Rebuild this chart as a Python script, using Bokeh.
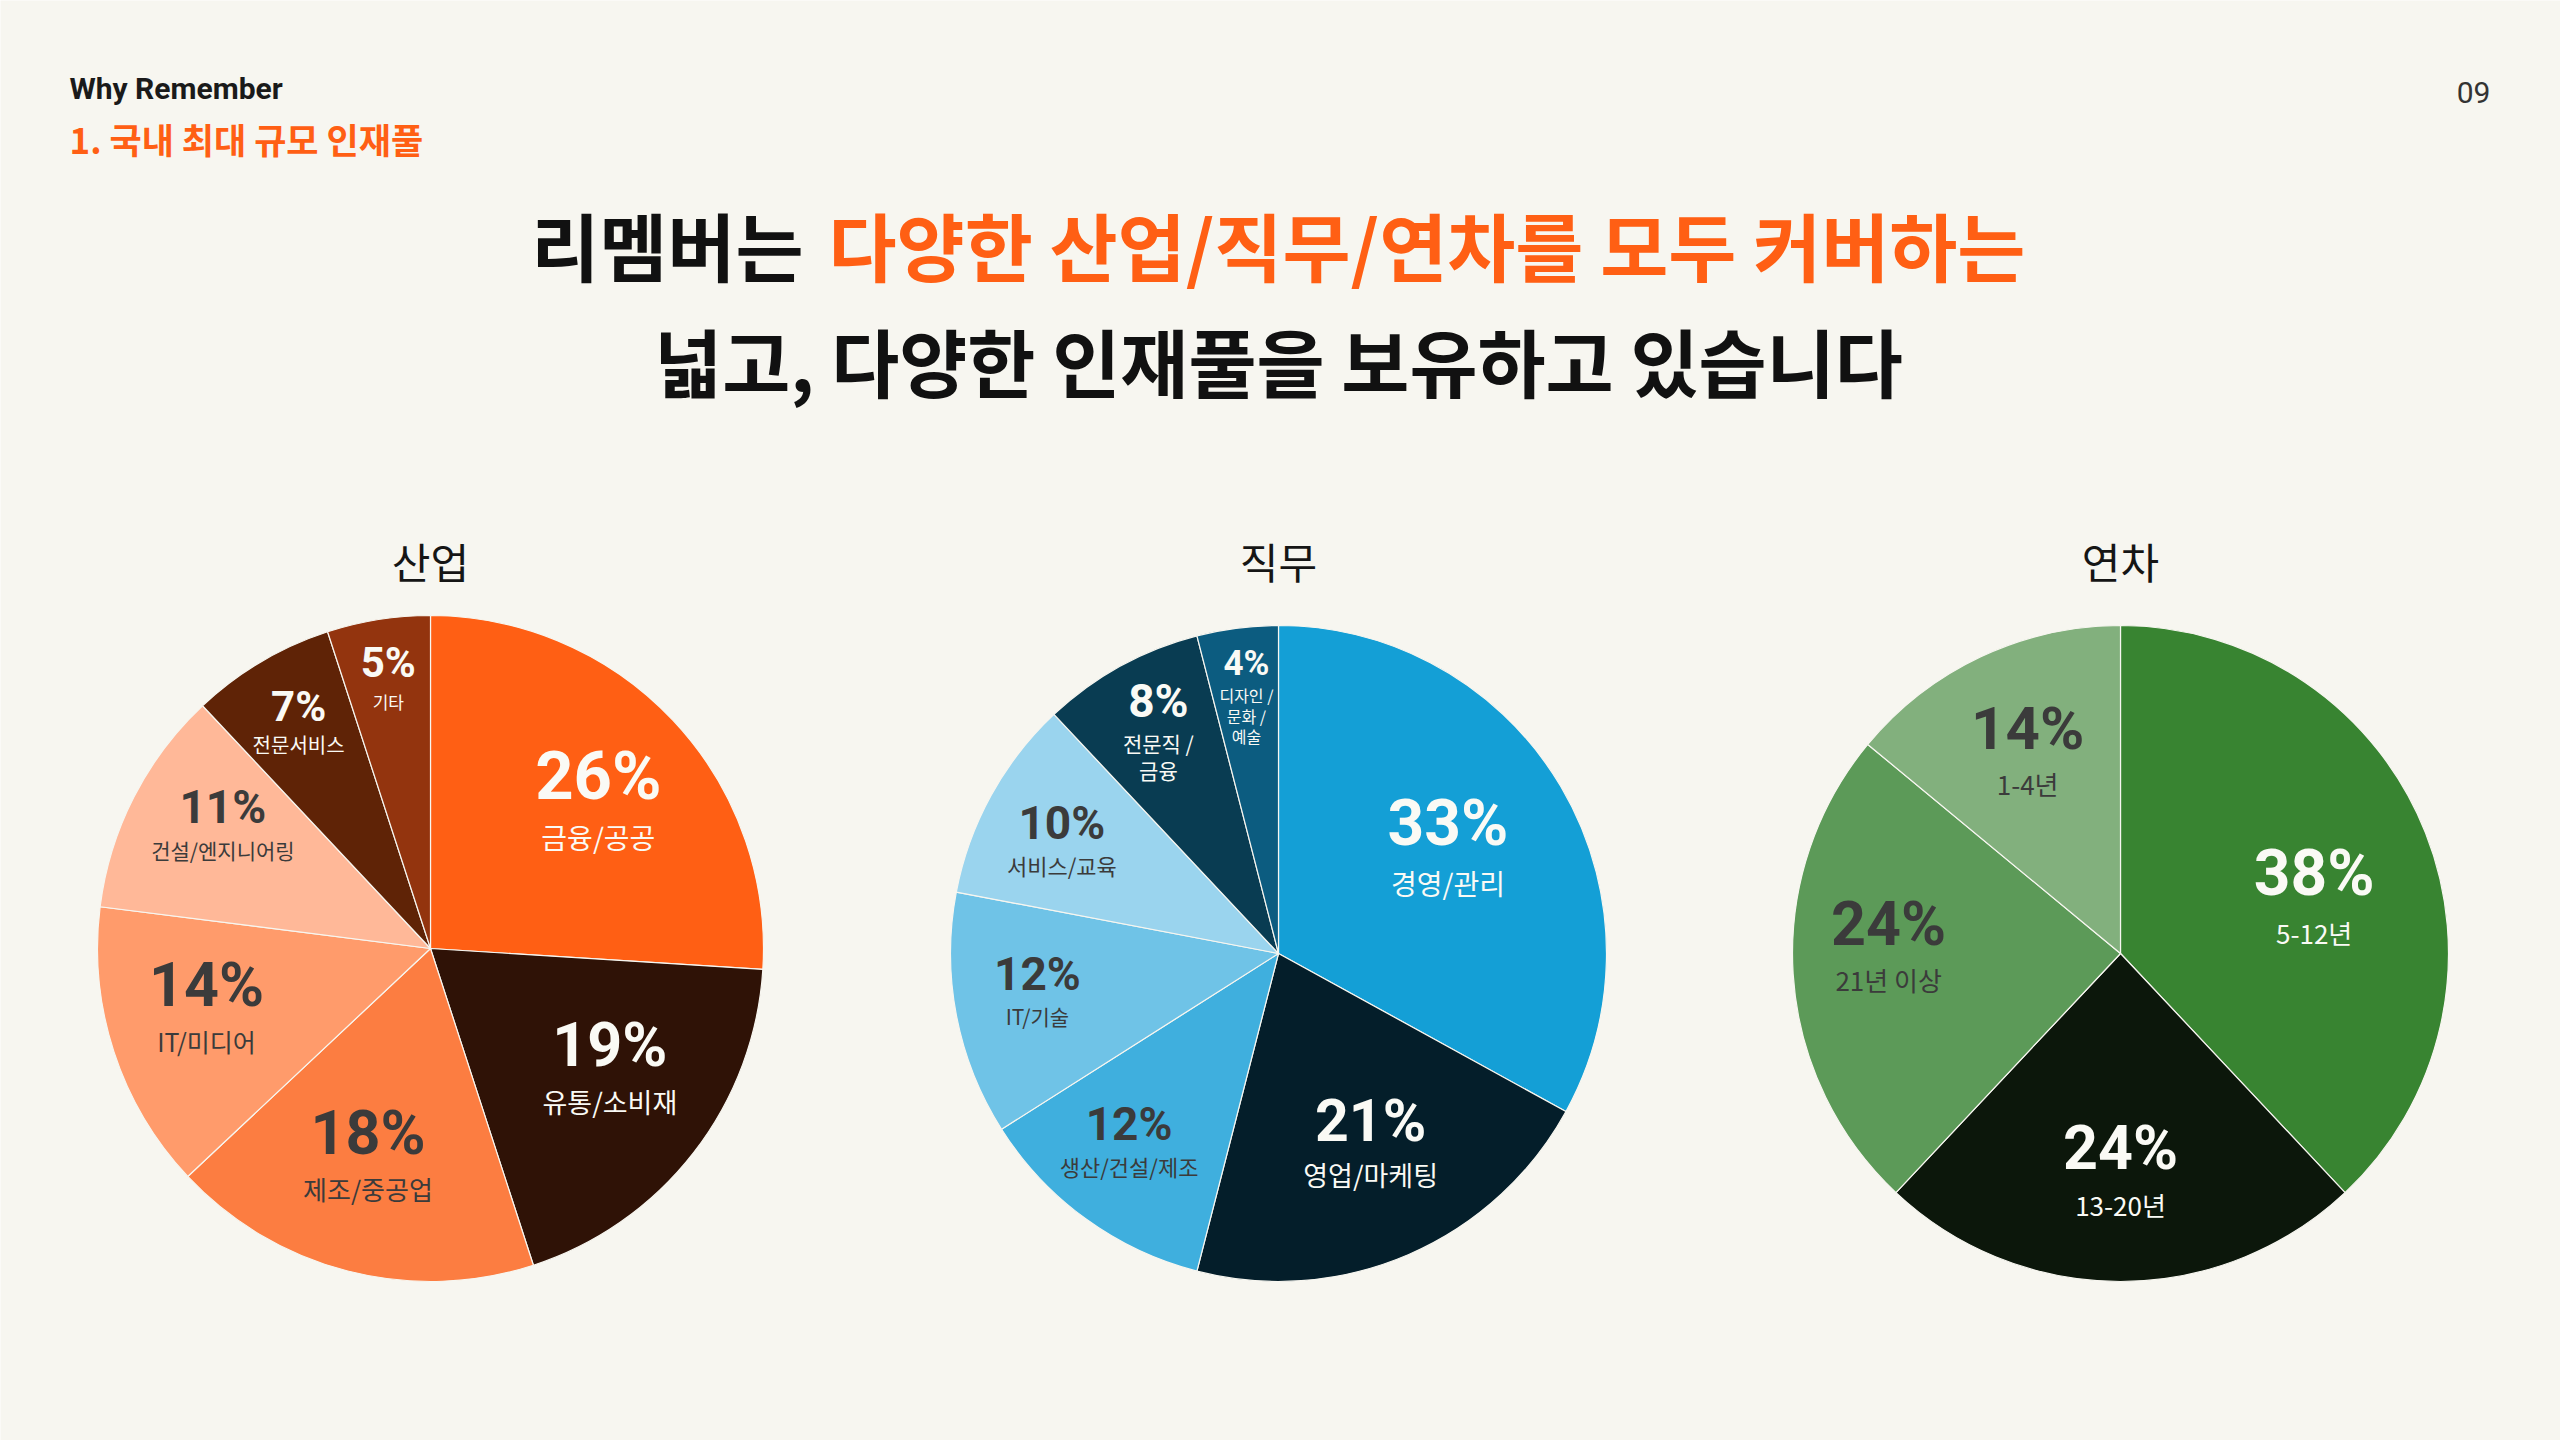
import numpy as np
from bokeh.plotting import figure
from bokeh.models import ColumnDataSource, Range1d
from bokeh.core.properties import value
from bokeh.embed import file_html
from bokeh.resources import INLINE

# 산업
ind_labels = ["금융/공공", "유통/소비재", "제조/중공업", "IT/미디어", "건설/엔지니어링", "전문서비스", "기타"]
ind_values = [26, 19, 18, 14, 11, 7, 5]
# 직무
job_labels = ["경영/관리", "영업/마케팅", "생산/건설/제조", "IT/기술", "서비스/교육", "전문직 /\n금융", "디자인 /\n문화 /\n예술"]
job_values = [33, 21, 12, 12, 10, 8, 4]
# 연차
yrs_labels = ["5-12년", "13-20년", "21년 이상", "1-4년"]
yrs_values = [38, 24, 24, 14]

BG = "#F7F6F0"
ORANGE = "#FF5F14"
LIGHT = "#FAFAF5"
DARK = "#3B3B3B"
KR = "Noto Sans CJK KR"
NUM = "Roboto"

# styles per slice
ind_colors = ["#FF5F14", "#2F1206", "#FC7D41", "#FF9B6B", "#FFB898", "#5F2306", "#93340E"]
ind_text = [LIGHT, LIGHT, DARK, DARK, DARK, LIGHT, LIGHT]
ind_pct_size = [67, 61, 61, 61, 46, 42, 42]
ind_sub_size = [28, 27, 26, 25, 21, 20, 17]
ind_label_r = [0.66, 0.656, 0.665, 0.70, 0.72, 0.778, 0.81]
ind_nudge = [3, -3, 2, 2, 3, 0, 0]

job_colors = ["#149FD6", "#041E2A", "#3FAFDE", "#6FC3E7", "#9AD4EE", "#093C52", "#0C5C80"]
job_text = [LIGHT, LIGHT, DARK, DARK, DARK, LIGHT, LIGHT]
job_pct_size = [64, 59, 46, 46, 46, 46, 35]
job_sub_size = [28, 27, 22, 21, 22, 21, 16]
job_label_r = [0.60, 0.655, 0.74, 0.746, 0.74, 0.76, 0.78]
job_nudge = [0, -2, 2, 1, -2, 0, 0]

yrs_colors = ["#388431", "#0C170B", "#5C9A58", "#82B07D"]
yrs_text = [LIGHT, LIGHT, DARK, DARK]
yrs_pct_size = [64, 61, 61, 60]
yrs_sub_size = [26, 26, 26, 26]
yrs_label_r = [0.61, 0.68, 0.707, 0.665]
yrs_nudge = [7, 0, 4, 0]

W, H = 2560, 1440


def Y(py):
    # page pixel row -> data y
    return H - py


p = figure(width=W, height=H, x_range=Range1d(0, W), y_range=Range1d(0, H),
           x_axis_type=None, y_axis_type=None, output_backend="svg",
           toolbar_location=None, min_border=0)
p.grid.visible = False
p.outline_line_color = None
p.background_fill_color = BG
p.border_fill_color = BG

# header
p.text(x=[69], y=[Y(88)], text=["Why Remember"], text_font=value(NUM), text_font_style="bold",
       text_font_size="30px", text_color="#1A1A1A", text_align="left", text_baseline="middle")
p.text(x=[69], y=[Y(138)], text=["1. 국내 최대 규모 인재풀"], text_font=value(KR), text_font_style="bold",
       text_font_size="35px", text_color=ORANGE, text_align="left", text_baseline="middle")
p.text(x=[2473], y=[Y(92)], text=["09"], text_font=value(NUM),
       text_font_size="30px", text_color="#333333", text_align="center", text_baseline="middle")

# main title
split = 803
p.text(x=[split], y=[Y(243)], text=["리멤버는"], text_font=value(KR), text_font_style="bold",
       text_font_size="74px", text_color="#111111", text_align="right", text_baseline="middle")
p.text(x=[split + 25], y=[Y(243)], text=["다양한 산업/직무/연차를 모두 커버하는"], text_font=value(KR),
       text_font_style="bold", text_font_size="74px", text_color=ORANGE, text_align="left",
       text_baseline="middle")
p.text(x=[1278], y=[Y(359)], text=["넓고, 다양한 인재풀을 보유하고 있습니다"], text_font=value(KR),
       text_font_style="bold", text_font_size="74px", text_color="#111111", text_align="center",
       text_baseline="middle")


def draw_pie(cx, cy, R, title, values, labels, colors, tcolors, pct_size, sub_size, label_r, nudge):
    frac = np.array(values, dtype=float) / sum(values)
    cum = np.concatenate([[0.0], np.cumsum(frac)])
    src = ColumnDataSource(dict(
        start=np.pi / 2 - 2 * np.pi * cum[:-1],
        end=np.pi / 2 - 2 * np.pi * cum[1:],
        color=colors,
    ))
    p.wedge(x=cx, y=Y(cy), radius=R, start_angle="start", end_angle="end", direction="clock",
            fill_color="color", line_color=BG, line_width=1.2, source=src)

    p.text(x=[cx], y=[Y(560)], text=[title], text_font=value(KR), text_font_size="42px",
           text_color="#151515", text_align="center", text_baseline="middle")

    mid = (cum[:-1] + cum[1:]) / 2
    ang = np.pi / 2 - 2 * np.pi * mid - np.radians(nudge)
    pct = dict(x=[], y=[], t=[], c=[], s=[])
    sub = dict(x=[], y=[], t=[], c=[], s=[])
    for i, v in enumerate(values):
        lx = cx + R * label_r[i] * np.cos(ang[i])
        ly = Y(cy) + R * label_r[i] * np.sin(ang[i])
        lines = labels[i].split("\n")
        gap = 0.92 * pct_size[i]
        lh = 1.27 * sub_size[i]
        half = (gap + (len(lines) - 1) * lh) / 2
        pct["x"].append(lx)
        pct["y"].append(ly + half)
        pct["t"].append(f"{v}%")
        pct["c"].append(tcolors[i])
        pct["s"].append(f"{pct_size[i]}px")
        for j, ln in enumerate(lines):
            sub["x"].append(lx)
            sub["y"].append(ly + half - gap - j * lh)
            sub["t"].append(ln)
            sub["c"].append(tcolors[i])
            sub["s"].append(f"{sub_size[i]}px")
    p.text(x="x", y="y", text="t", text_color="c", text_font_size="s", text_font=value(NUM),
           text_font_style="bold", text_align="center", text_baseline="middle",
           source=ColumnDataSource(pct))
    p.text(x="x", y="y", text="t", text_color="c", text_font_size="s", text_font=value(KR),
           text_align="center", text_baseline="middle", source=ColumnDataSource(sub))


draw_pie(430, 948, 333, "산업", ind_values, ind_labels, ind_colors, ind_text,
         ind_pct_size, ind_sub_size, ind_label_r, ind_nudge)
draw_pie(1278, 953, 328, "직무", job_values, job_labels, job_colors, job_text,
         job_pct_size, job_sub_size, job_label_r, job_nudge)
draw_pie(2120, 953, 328, "연차", yrs_values, yrs_labels, yrs_colors, yrs_text,
         yrs_pct_size, yrs_sub_size, yrs_label_r, yrs_nudge)

open("out.html", "w").write(file_html(p, INLINE))
